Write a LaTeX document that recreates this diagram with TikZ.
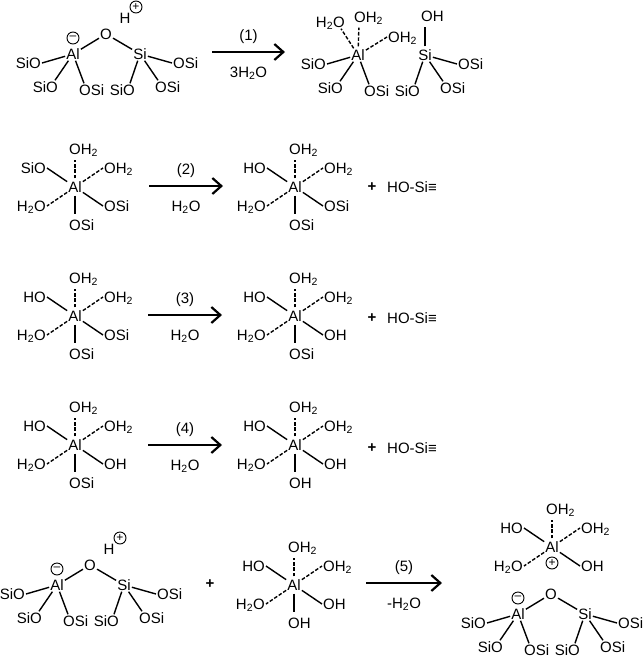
\documentclass[tikz,border=0pt]{standalone}
\usepackage{fontspec}
\setmainfont{Liberation Sans}
\usetikzlibrary{arrows.meta,calc}
\newcommand{\wat}{H\textsubscript{2}O}
\newcommand{\owat}{OH\textsubscript{2}}

\tikzset{
  atm/.style={inner sep=1pt, font=\fontsize{15}{15}\selectfont, text height=11pt, text depth=0pt},
  lig/.style={atm},
  sgn/.style={atm, font=\fontsize{15}{15}\selectfont\bfseries},
  chg/.style={draw, circle, inner sep=0pt, minimum size=12pt, line width=0.9pt, font=\fontsize{12}{12}\selectfont},
  bnd/.style={line width=1.4pt},
  dbnd/.style={bnd, dash pattern=on 3.6pt off 1.8pt},
  vbnd/.style={shorten >=4pt, shorten <=2pt},
  rxn/.style={line width=2.2pt, -{Straight Barb[length=9pt, width=16pt, line width=2.2pt]}},
}

% octahedral Al: prefix, x, y, four ligands
\newcommand{\octacore}[7]{
  \node[atm] (#1al) at (#2,#3) {Al};
  \node[lig, anchor=west] (#1up) at (#2-7,#3-38) {\owat};
  \node[lig, anchor=east] (#1tl) at (#2-28,#3-19) {#4};
  \node[lig, anchor=west] (#1tr) at (#2+28,#3-19) {#5};
  \node[lig, anchor=east] (#1bl) at (#2-28,#3+19) {#6};
  \node[lig, anchor=west] (#1br) at (#2+28,#3+19) {#7};
  \draw[dbnd, vbnd] (#1al) -- (#1al |- #1up.south);
  \draw[bnd] (#1al) -- (#1tl.east);
  \draw[dbnd] (#1al) -- (#1tr.west);
  \draw[dbnd] (#1al) -- (#1bl.east);
  \draw[bnd] (#1al) -- (#1br.west);
}
% same with the lower ligand
\newcommand{\octa}[8]{
  \octacore{#1}{#2}{#3}{#4}{#5}{#6}{#7}
  \node[lig, anchor=west] (#1dn) at (#2-7,#3+38) {#8};
  \draw[bnd, vbnd] (#1al) -- (#1al |- #1dn.north);
}
% Al and Si with their OSi legs: prefix, x, y of Al
\newcommand{\legs}[3]{
  \node[atm] (#1al) at (#2,#3) {Al};
  \node[atm] (#1si) at (#2+67,#3) {Si};
  \node[lig, anchor=east] (#1a) at (#2-31,#3+9) {SiO};
  \node[lig, anchor=east] (#1b) at (#2-14,#3+33) {SiO};
  \node[lig, anchor=west] (#1c) at (#2+5,#3+36) {OSi};
  \node[lig, anchor=east] (#1d) at (#2+63,#3+36) {SiO};
  \node[lig, anchor=west] (#1e) at (#2+81,#3+33) {OSi};
  \node[lig, anchor=west] (#1f) at (#2+99,#3+9) {OSi};
  \draw[bnd] (#1al) -- (#1a.east);
  \draw[bnd] (#1al) -- ([xshift=-4pt]#1b.north east);
  \draw[bnd] (#1al) -- ([xshift=6pt]#1c.north west);
  \draw[bnd] (#1si) -- ([xshift=-6pt]#1d.north east);
  \draw[bnd] (#1si) -- ([xshift=4pt]#1e.north west);
  \draw[bnd] (#1si) -- (#1f.west);
}
% oxygen bridge and charge on Al
\newcommand{\bridge}[3]{
  \node[atm] (#1o) at (#2+33,#3-20) {O};
  \node[chg] (#1q) at (#2,#3-16) {--};
  \draw[bnd] (#1al) -- (#1o);
  \draw[bnd] (#1o) -- (#1si);
}
% acid proton
\newcommand{\proton}[3]{
  \node[atm] (#1h) at (#2+52,#3-36) {H};
  \node[chg] (#1p) at (#2+63,#3-47) {+};
}
% reaction arrow
\newcommand{\rxnarrow}[6]{
  \coordinate (#1s) at (#2,#4);
  \coordinate (#1e) at (#3,#4);
  \draw[rxn] (#1s) -- (#1e);
  \node[atm] (#1t) at ($(#1s)!0.5!(#1e)+(0,-17)$) {#5};
  \node[atm] (#1u) at ($(#1s)!0.5!(#1e)+(0,20)$) {#6};
}

\begin{document}
\begin{tikzpicture}[x=1pt, y=-1pt]
\useasboundingbox (0,0) rectangle (643,659);

% reaction 1
\legs{aa}{73}{54}
\bridge{aa}{73}{54}
\proton{aa}{73}{54}
\rxnarrow{ra}{212}{285}{52}{(1)}{3\wat}
\legs{ab}{358}{55}
\node[lig, anchor=east] (abw) at (346,22) {\wat};
\node[lig, anchor=west] (abx) at (353,17) {\owat};
\node[lig, anchor=west] (aby) at (387,37) {\owat};
\node[lig, anchor=west] (abz) at (420,16) {OH};
\draw[dbnd] (abal) -- ([xshift=-5pt]abw.south east);
\draw[dbnd, vbnd] (abal) -- ([xshift=6pt]abx.south west);
\draw[dbnd] (abal) -- (aby.west);
\draw[bnd, vbnd] (absi) -- (absi |- abz.south);

% reaction 2
\octa{ba}{75}{187}{SiO}{\owat}{\wat}{OSi}{OSi}
\rxnarrow{rb}{149}{223}{186}{(2)}{\wat}
\octa{bb}{295}{187}{HO}{\owat}{\wat}{OSi}{OSi}
\node[sgn] (bc) at (372,186) {+};
\node[atm, anchor=west] (bd) at (386,187) {HO-Si≡};

% reaction 3
\octa{ca}{75}{316}{HO}{\owat}{\wat}{OSi}{OSi}
\rxnarrow{rc}{148}{222}{315}{(3)}{\wat}
\octa{cb}{295}{316}{HO}{\owat}{\wat}{OH}{OSi}
\node[sgn] (cc) at (372,317) {+};
\node[atm, anchor=west] (cd) at (386,318) {HO-Si≡};

% reaction 4
\octa{da}{75}{445}{HO}{\owat}{\wat}{OH}{OSi}
\rxnarrow{rd}{148}{222}{445}{(4)}{\wat}
\octa{db}{295}{445}{HO}{\owat}{\wat}{OH}{OH}
\node[sgn] (dc) at (372,447) {+};
\node[atm, anchor=west] (dd) at (386,448) {HO-Si≡};

% reaction 5
\legs{ea}{57}{585}
\bridge{ea}{57}{585}
\proton{ea}{57}{585}
\node[sgn] (ep) at (210,583) {+};
\octa{eb}{294}{585}{HO}{\owat}{\wat}{OH}{OH}
\rxnarrow{re}{366}{442}{583}{(5)}{-\wat}
\octacore{ec}{552}{547}{HO}{\owat}{\wat}{OH}
\node[chg] (ecq) at (552,563) {+};
\legs{ed}{518}{614}
\bridge{ed}{518}{614}
\end{tikzpicture}
\end{document}
